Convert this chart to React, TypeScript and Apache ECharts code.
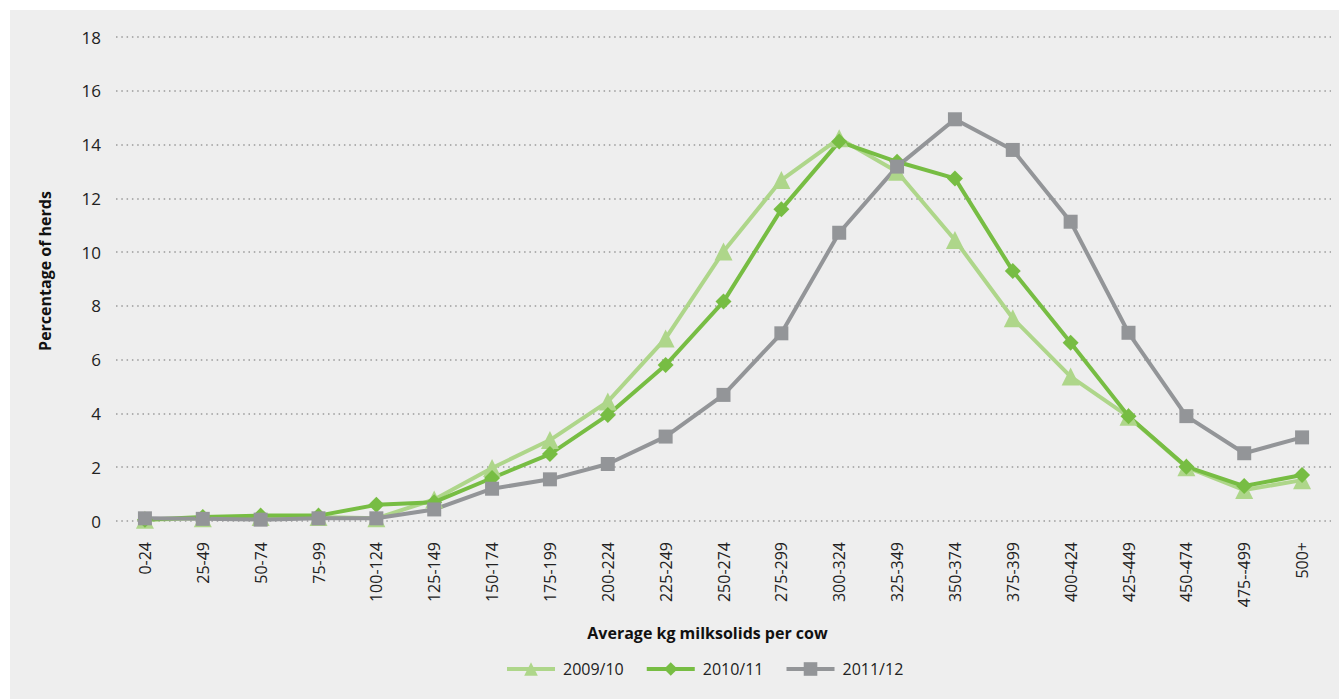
import React, { useEffect, useRef } from "react";
import * as echarts from "echarts";

const categories = [
  "0-24", "25-49", "50-74", "75-99", "100-124", "125-149", "150-174", "175-199",
  "200-224", "225-249", "250-274", "275-299", "300-324", "325-349", "350-374",
  "375-399", "400-424", "425-449", "450-474", "475--499", "500+",
];

const s2009 = [0.05, 0.1, 0.15, 0.15, 0.1, 0.8, 1.97, 3.01, 4.44, 6.79, 10.02, 12.68, 14.23, 12.99, 10.45, 7.54, 5.37, 3.88, 2.0, 1.15, 1.52];
const s2010 = [0.05, 0.15, 0.2, 0.2, 0.6, 0.7, 1.6, 2.49, 3.94, 5.8, 8.16, 11.59, 14.11, 13.36, 12.74, 9.3, 6.63, 3.9, 2.02, 1.3, 1.71];
const s2011 = [0.1, 0.08, 0.05, 0.1, 0.1, 0.43, 1.2, 1.55, 2.12, 3.14, 4.69, 6.98, 10.72, 13.18, 14.94, 13.8, 11.13, 7.0, 3.9, 2.52, 3.11];

const seriesNames = ["2009/10", "2010/11", "2011/12"];
const yTicks = { min: 0, max: 18, interval: 2 };

const FONT = "'Open Sans', 'Noto Sans', sans-serif";

export default function App() {
  const ref = useRef<HTMLDivElement>(null);
  useEffect(() => {
    document.body.style.margin = "0";
    const chart = echarts.init(ref.current!, null, { renderer: "svg" });
    const mk = (name: string, data: number[], color: string, symbol: string, size: number) => ({
      name,
      type: "line",
      data,
      symbol,
      symbolSize: size,
      lineStyle: { color, width: 4 },
      itemStyle: { color },
      emphasis: { disabled: true },
    });
    chart.setOption({
      animation: false,
      backgroundColor: "#eeeeee",
      textStyle: { fontFamily: FONT },
      grid: { left: 106, right: 8, top: 27, bottom: 178 },
      legend: {
        top: 651,
        left: 495,
        padding: 0,
        itemWidth: 48,
        itemHeight: 17,
        itemGap: 21,
        lineStyle: { width: 4 },
        textStyle: { fontFamily: FONT, fontSize: 16, color: "#222", padding: [0, 0, 0, 3] },
        data: seriesNames,
      },
      xAxis: {
        type: "category",
        data: categories,
        boundaryGap: true,
        axisLine: { show: false },
        axisTick: { show: false },
        axisLabel: { rotate: 90, margin: 21, fontSize: 16, color: "#222", fontFamily: FONT, interval: 0 },
        name: "Average kg milksolids per cow",
        nameLocation: "middle",
        nameGap: 104,
        nameTextStyle: { fontSize: 16, fontWeight: "bold", color: "#111", fontFamily: FONT, padding: [0, 32, 0, 0] },
      },
      yAxis: {
        type: "value",
        min: yTicks.min,
        max: yTicks.max,
        interval: yTicks.interval,
        axisLine: { show: false },
        axisTick: { show: false },
        axisLabel: { margin: 15, fontSize: 17, color: "#222", fontFamily: FONT },
        splitLine: { show: true, lineStyle: { color: "#9a9a9a", width: 1.5, type: [1.5, 3.8] } },
        name: "Percentage of herds",
        nameLocation: "middle",
        nameGap: 63,
        nameTextStyle: { fontSize: 16, fontWeight: "bold", color: "#111", fontFamily: FONT, padding: [0, 0, 0, 16] },
      },
      series: [
        mk(seriesNames[0], s2009, "#aed68a", "triangle", 18),
        mk(seriesNames[1], s2010, "#77bd43", "diamond", 16),
        mk(seriesNames[2], s2011, "#939598", "rect", 14),
      ],
    });
    return () => chart.dispose();
  }, []);
  return (
    <div style={{ position: "relative", width: 1339, height: 699, background: "#ffffff" }}>
      <div ref={ref} style={{ position: "absolute", left: 10, top: 10, width: 1329, height: 689 }} />
    </div>
  );
}
